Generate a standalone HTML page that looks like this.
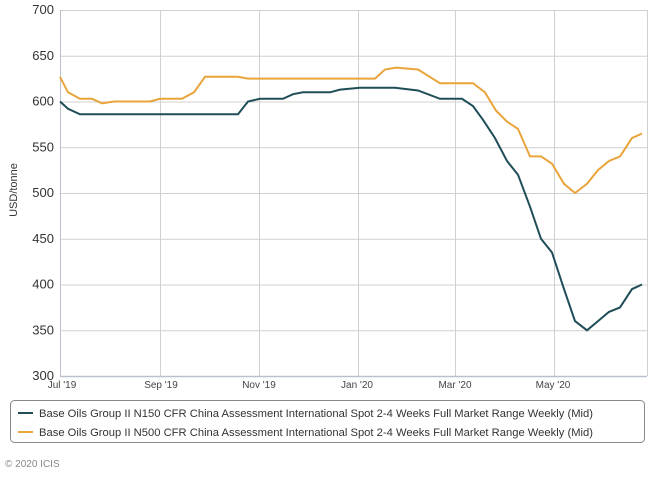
<!DOCTYPE html>
<html><head><meta charset="utf-8"><style>
body{margin:0;background:#fff;font-family:"Liberation Sans",sans-serif;}
</style></head><body>
<svg width="668" height="478" xmlns="http://www.w3.org/2000/svg" font-family="Liberation Sans, sans-serif">
<rect width="668" height="478" fill="#fff"/>
<g stroke="#d0d0d0" stroke-width="1" id="grid"></g>
<line x1="60.5" y1="10" x2="60.5" y2="376" stroke="#b8c0cc"/>
<line x1="60" y1="376.5" x2="647" y2="376.5" stroke="#b8c0cc" stroke-width="1.5"/>
<g id="ylab" font-size="13" fill="#333" text-anchor="end"></g>
<g font-size="10" fill="#444" text-anchor="middle">
<text x="62" y="388">Jul '19</text><text x="161" y="388">Sep '19</text><text x="259" y="388">Nov '19</text>
<text x="357" y="388">Jan '20</text><text x="455" y="388">Mar '20</text><text x="553" y="388">May '20</text>
</g>
<text transform="translate(17,190) rotate(-90)" font-size="11" fill="#333" text-anchor="middle">USD/tonne</text>
<polyline id="a" fill="none" stroke="#e9a43c" stroke-width="2"/>
<polyline id="b" fill="none" stroke="#1f4d58" stroke-width="2"/>
<rect x="10.5" y="400.5" width="634" height="42" rx="4" fill="none" stroke="#888"/>
<line x1="18" y1="413" x2="33" y2="413" stroke="#1f4d58" stroke-width="2"/>
<line x1="18" y1="432" x2="33" y2="432" stroke="#e9a43c" stroke-width="2"/>
<g font-size="11" fill="#333">
<text x="39" y="417" textLength="554" lengthAdjust="spacingAndGlyphs">Base Oils Group II N150 CFR China Assessment International Spot 2-4 Weeks Full Market Range Weekly (Mid)</text>
<text x="39" y="436" textLength="554" lengthAdjust="spacingAndGlyphs">Base Oils Group II N500 CFR China Assessment International Spot 2-4 Weeks Full Market Range Weekly (Mid)</text>
</g>
<text x="5" y="467" font-size="10" fill="#888">© 2020 ICIS</text>
</svg>
<script>
function Y(v){return 376-(v-300)*0.915;}
var g=document.getElementById('grid'),yl=document.getElementById('ylab'),ns='http://www.w3.org/2000/svg';
for(var v=350;v<=700;v+=50){var l=document.createElementNS(ns,'line');l.setAttribute('x1',60);l.setAttribute('x2',647);l.setAttribute('y1',Y(v)+0.5);l.setAttribute('y2',Y(v)+0.5);g.appendChild(l);}
for(var v=300;v<=700;v+=50){var t=document.createElementNS(ns,'text');t.setAttribute('x',54);t.setAttribute('y',Y(v)+4);t.textContent=v;yl.appendChild(t);}
[160,259,358,455,554,647].forEach(function(x){var l=document.createElementNS(ns,'line');l.setAttribute('x1',x+0.5);l.setAttribute('x2',x+0.5);l.setAttribute('y1',10);l.setAttribute('y2',376);g.appendChild(l);});
var b=[[60,600],[68,592],[80,586],[238,586],[248,600],[260,603],[283,603],[293,608],[303,610],[330,610],[340,613],[360,615],[395,615],[418,612],[440,603],[462,603],[473,595],[483,580],[495,560],[507,535],[518,520],[530,485],[541,450],[552,435],[564,395],[575,360],[587,350],[598,360],[609,370],[620,375],[632,395],[642,400]];
var a=[[60,627],[68,610],[80,603],[92,603],[102,598],[114,600],[150,600],[160,603],[182,603],[194,610],[205,627],[238,627],[248,625],[375,625],[385,635],[396,637],[418,635],[440,620],[473,620],[485,610],[496,590],[507,578],[518,570],[530,540],[541,540],[552,532],[564,510],[575,500],[587,510],[598,525],[609,535],[620,540],[632,560],[642,565]];
function P(d){return d.map(function(p){return p[0]+','+Y(p[1]).toFixed(1)}).join(' ');}
document.getElementById('a').setAttribute('points',P(a));
document.getElementById('b').setAttribute('points',P(b));
</script>
</body></html>
